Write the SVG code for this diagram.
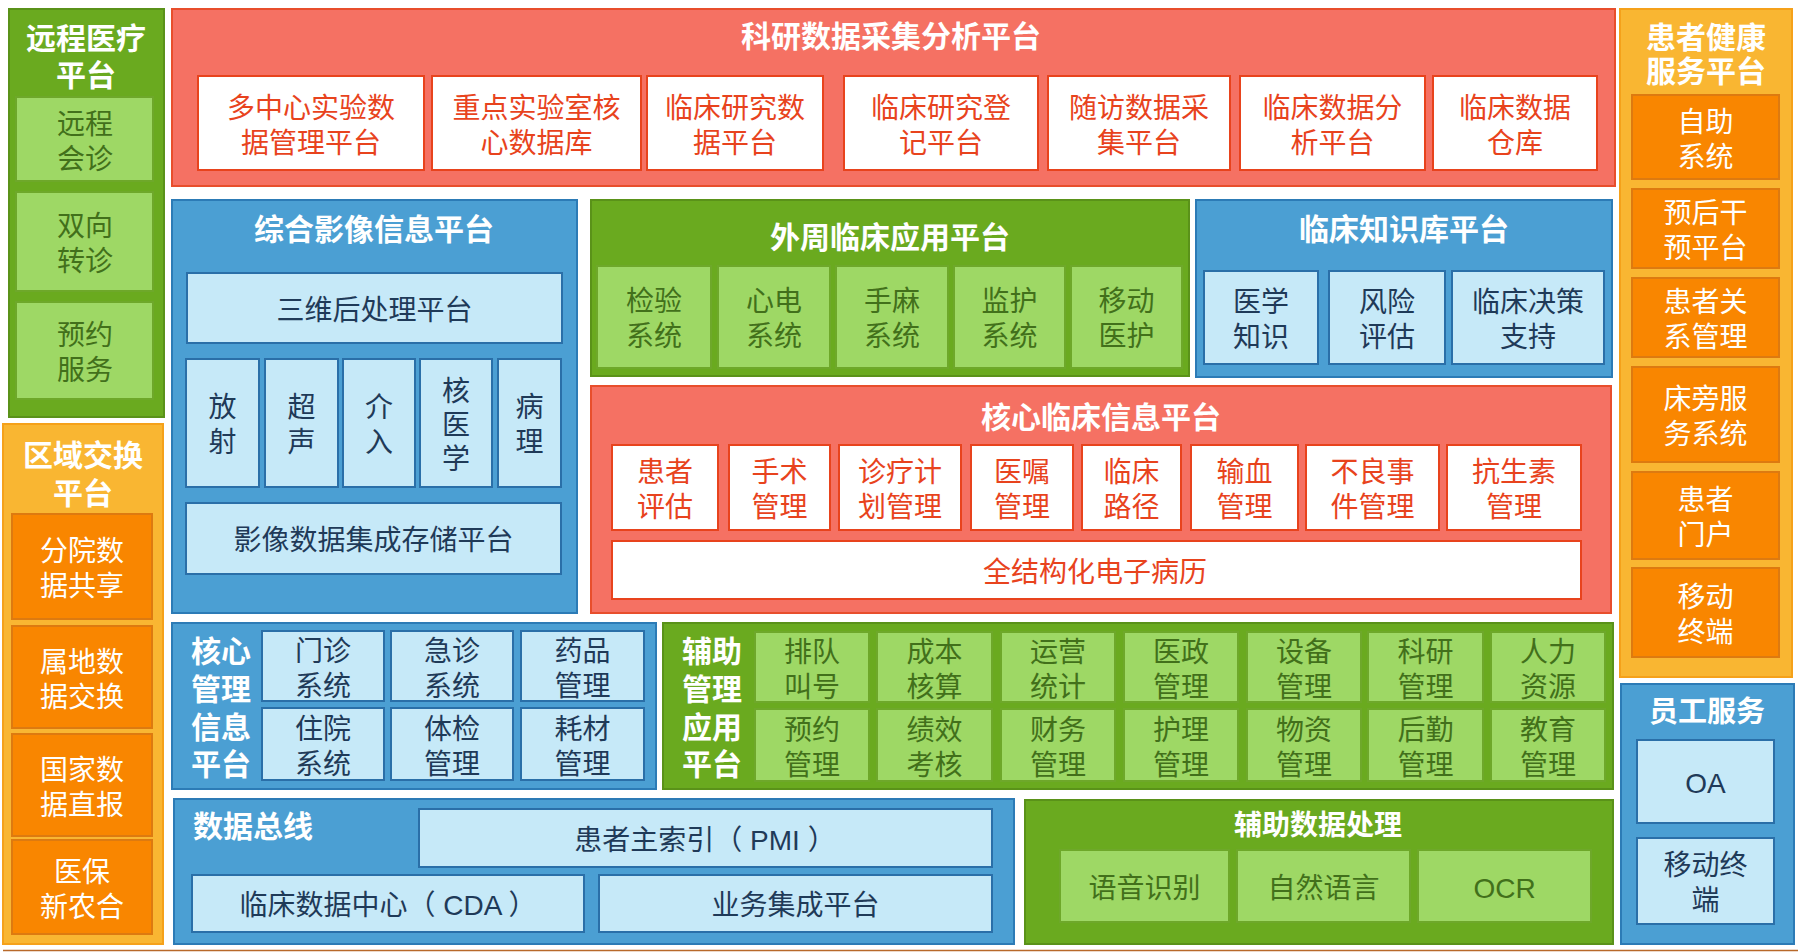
<svg xmlns="http://www.w3.org/2000/svg" width="1798" height="952" viewBox="0 0 1798 952">
<style>
text{font-family:"Liberation Sans","Noto Sans CJK SC","Microsoft YaHei",sans-serif;text-anchor:middle;dominant-baseline:central;font-size:28px;transform:translateY(2px)}
.pg{fill:#6aaa1f;stroke:#5a9219;stroke-width:2}
.pr{fill:#f57163;stroke:#e84e2c;stroke-width:2}
.pb{fill:#4b9fd3;stroke:#2c7bb6;stroke-width:2}
.po{fill:#f9b632;stroke:#f5a11a;stroke-width:2}
.bg{fill:#9ed865;stroke:#6ea82a;stroke-width:2}
.bw{fill:#ffffff;stroke:#e8431d;stroke-width:2}
.bb{fill:#c6e9f8;stroke:#2a6fa8;stroke-width:2}
.bo{fill:#f98600;stroke:#dd7a10;stroke-width:2}
.t{fill:#ffffff;font-weight:bold;font-size:30px}
.tg{fill:#42701b}
.tr{fill:#e8431d}
.tb{fill:#1f3a58}
.tw{fill:#ffffff}
</style>
<rect width="1798" height="952" fill="#ffffff"/>
<line x1="3" y1="950.5" x2="1798" y2="950.5" stroke="#b8692a" stroke-width="1.5"/>

<g id="remote">
<rect class="pg" x="9" y="9" width="155" height="408"/>
<text class="t"><tspan x="86" y="36">远程医疗</tspan><tspan x="86" y="73">平台</tspan></text>
<rect class="bg" x="16" y="97" width="137" height="84"/>
<text class="tg"><tspan x="85" y="121.5">远程</tspan><tspan x="85" y="156.5">会诊</tspan></text>
<rect class="bg" x="16" y="192" width="137" height="99"/>
<text class="tg"><tspan x="85" y="224">双向</tspan><tspan x="85" y="259">转诊</tspan></text>
<rect class="bg" x="16" y="302" width="137" height="97"/>
<text class="tg"><tspan x="85" y="333">预约</tspan><tspan x="85" y="368">服务</tspan></text>
</g>

<g id="region">
<rect class="po" x="3" y="424" width="160" height="520"/>
<text class="t"><tspan x="83" y="453">区域交换</tspan><tspan x="83" y="491">平台</tspan></text>
<rect class="bo" x="12" y="514" width="140" height="105"/>
<text class="tw"><tspan x="82" y="549">分院数</tspan><tspan x="82" y="584">据共享</tspan></text>
<rect class="bo" x="12" y="626" width="140" height="102"/>
<text class="tw"><tspan x="82" y="659.5">属地数</tspan><tspan x="82" y="694.5">据交换</tspan></text>
<rect class="bo" x="12" y="734" width="140" height="102"/>
<text class="tw"><tspan x="82" y="767.5">国家数</tspan><tspan x="82" y="802.5">据直报</tspan></text>
<rect class="bo" x="12" y="840" width="140" height="94"/>
<text class="tw"><tspan x="82" y="869.5">医保</tspan><tspan x="82" y="904.5">新农合</tspan></text>
</g>

<g id="research">
<rect class="pr" x="172" y="9" width="1443" height="177"/>
<text class="t" x="891" y="34">科研数据采集分析平台</text>
<rect class="bw" x="198" y="76" width="226" height="94"/>
<text class="tr"><tspan x="311" y="106">多中心实验数</tspan><tspan x="311" y="141">据管理平台</tspan></text>
<rect class="bw" x="432" y="76" width="209" height="94"/>
<text class="tr"><tspan x="536.5" y="106">重点实验室核</tspan><tspan x="536.5" y="141">心数据库</tspan></text>
<rect class="bw" x="647" y="76" width="176" height="94"/>
<text class="tr"><tspan x="735" y="106">临床研究数</tspan><tspan x="735" y="141">据平台</tspan></text>
<rect class="bw" x="844" y="76" width="194" height="94"/>
<text class="tr"><tspan x="941" y="106">临床研究登</tspan><tspan x="941" y="141">记平台</tspan></text>
<rect class="bw" x="1048" y="76" width="182" height="94"/>
<text class="tr"><tspan x="1139" y="106">随访数据采</tspan><tspan x="1139" y="141">集平台</tspan></text>
<rect class="bw" x="1240" y="76" width="185" height="94"/>
<text class="tr"><tspan x="1332.5" y="106">临床数据分</tspan><tspan x="1332.5" y="141">析平台</tspan></text>
<rect class="bw" x="1433" y="76" width="164" height="94"/>
<text class="tr"><tspan x="1515" y="106">临床数据</tspan><tspan x="1515" y="141">仓库</tspan></text>
</g>

<g id="imaging">
<rect class="pb" x="172" y="200" width="405" height="413"/>
<text class="t" x="374" y="227">综合影像信息平台</text>
<rect class="bb" x="187" y="273" width="375" height="70"/>
<text class="tb" x="374.5" y="308">三维后处理平台</text>
<rect class="bb" x="186" y="359" width="73" height="128"/>
<text class="tb"><tspan x="222.5" y="405">放</tspan><tspan x="222.5" y="440">射</tspan></text>
<rect class="bb" x="265" y="359" width="73" height="128"/>
<text class="tb"><tspan x="301.5" y="405">超</tspan><tspan x="301.5" y="440">声</tspan></text>
<rect class="bb" x="343" y="359" width="72" height="128"/>
<text class="tb"><tspan x="379" y="405">介</tspan><tspan x="379" y="440">入</tspan></text>
<rect class="bb" x="420" y="359" width="72" height="128"/>
<text class="tb"><tspan x="456" y="389">核</tspan><tspan x="456" y="423">医</tspan><tspan x="456" y="457">学</tspan></text>
<rect class="bb" x="498" y="359" width="63" height="128"/>
<text class="tb"><tspan x="529.5" y="405">病</tspan><tspan x="529.5" y="440">理</tspan></text>
<rect class="bb" x="186" y="503" width="375" height="71"/>
<text class="tb" x="373.5" y="538.5">影像数据集成存储平台</text>
</g>

<g id="periphery">
<rect class="pg" x="591" y="200" width="598" height="176"/>
<text class="t" x="890" y="235">外周临床应用平台</text>
<rect class="bg" x="597" y="266" width="114" height="102"/>
<text class="tg"><tspan x="654" y="299">检验</tspan><tspan x="654" y="334">系统</tspan></text>
<rect class="bg" x="718" y="266" width="112" height="102"/>
<text class="tg"><tspan x="774" y="299">心电</tspan><tspan x="774" y="334">系统</tspan></text>
<rect class="bg" x="836" y="266" width="112" height="102"/>
<text class="tg"><tspan x="892" y="299">手麻</tspan><tspan x="892" y="334">系统</tspan></text>
<rect class="bg" x="954" y="266" width="111" height="102"/>
<text class="tg"><tspan x="1009.5" y="299">监护</tspan><tspan x="1009.5" y="334">系统</tspan></text>
<rect class="bg" x="1071" y="266" width="111" height="102"/>
<text class="tg"><tspan x="1126.5" y="299">移动</tspan><tspan x="1126.5" y="334">医护</tspan></text>
</g>

<g id="knowledge">
<rect class="pb" x="1196" y="200" width="416" height="177"/>
<text class="t" x="1404" y="227">临床知识库平台</text>
<rect class="bb" x="1204" y="271" width="114" height="93"/>
<text class="tb"><tspan x="1261" y="300">医学</tspan><tspan x="1261" y="335">知识</tspan></text>
<rect class="bb" x="1329" y="271" width="116" height="93"/>
<text class="tb"><tspan x="1387" y="300">风险</tspan><tspan x="1387" y="335">评估</tspan></text>
<rect class="bb" x="1452" y="271" width="152" height="93"/>
<text class="tb"><tspan x="1528" y="300">临床决策</tspan><tspan x="1528" y="335">支持</tspan></text>
</g>

<g id="core-clinical">
<rect class="pr" x="591" y="386" width="1020" height="227"/>
<text class="t" x="1101" y="415">核心临床信息平台</text>
<rect class="bw" x="612" y="445" width="106" height="85"/>
<text class="tr"><tspan x="665" y="470">患者</tspan><tspan x="665" y="505">评估</tspan></text>
<rect class="bw" x="729" y="445" width="101" height="85"/>
<text class="tr"><tspan x="779.5" y="470">手术</tspan><tspan x="779.5" y="505">管理</tspan></text>
<rect class="bw" x="839" y="445" width="122" height="85"/>
<text class="tr"><tspan x="900" y="470">诊疗计</tspan><tspan x="900" y="505">划管理</tspan></text>
<rect class="bw" x="971" y="445" width="102" height="85"/>
<text class="tr"><tspan x="1022" y="470">医嘱</tspan><tspan x="1022" y="505">管理</tspan></text>
<rect class="bw" x="1082" y="445" width="99" height="85"/>
<text class="tr"><tspan x="1131.5" y="470">临床</tspan><tspan x="1131.5" y="505">路径</tspan></text>
<rect class="bw" x="1191" y="445" width="107" height="85"/>
<text class="tr"><tspan x="1244.5" y="470">输血</tspan><tspan x="1244.5" y="505">管理</tspan></text>
<rect class="bw" x="1306" y="445" width="133" height="85"/>
<text class="tr"><tspan x="1372.5" y="470">不良事</tspan><tspan x="1372.5" y="505">件管理</tspan></text>
<rect class="bw" x="1447" y="445" width="134" height="85"/>
<text class="tr"><tspan x="1514" y="470">抗生素</tspan><tspan x="1514" y="505">管理</tspan></text>
<rect class="bw" x="612" y="541" width="969" height="58"/>
<text class="tr" x="1095" y="570">全结构化电子病历</text>
</g>

<g id="patient-health">
<rect class="po" x="1620" y="9" width="172" height="668"/>
<text class="t"><tspan x="1706" y="35">患者健康</tspan><tspan x="1706" y="69">服务平台</tspan></text>
<rect class="bo" x="1632" y="95" width="147" height="84"/>
<text class="tw"><tspan x="1705.5" y="119.5">自助</tspan><tspan x="1705.5" y="154.5">系统</tspan></text>
<rect class="bo" x="1632" y="189" width="147" height="79"/>
<text class="tw"><tspan x="1705.5" y="211">预后干</tspan><tspan x="1705.5" y="246">预平台</tspan></text>
<rect class="bo" x="1632" y="278" width="147" height="79"/>
<text class="tw"><tspan x="1705.5" y="300">患者关</tspan><tspan x="1705.5" y="335">系管理</tspan></text>
<rect class="bo" x="1632" y="367" width="147" height="95"/>
<text class="tw"><tspan x="1705.5" y="397">床旁服</tspan><tspan x="1705.5" y="432">务系统</tspan></text>
<rect class="bo" x="1632" y="472" width="147" height="87"/>
<text class="tw"><tspan x="1705.5" y="498">患者</tspan><tspan x="1705.5" y="533">门户</tspan></text>
<rect class="bo" x="1632" y="568" width="147" height="89"/>
<text class="tw"><tspan x="1705.5" y="595">移动</tspan><tspan x="1705.5" y="630">终端</tspan></text>
</g>

<g id="core-management">
<rect class="pb" x="172" y="623" width="484" height="166"/>
<text class="t"><tspan x="221" y="649">核心</tspan><tspan x="221" y="687">管理</tspan><tspan x="221" y="725">信息</tspan><tspan x="221" y="762">平台</tspan></text>
<rect class="bb" x="262" y="631" width="122" height="70"/>
<text class="tb"><tspan x="323" y="648.5">门诊</tspan><tspan x="323" y="683.5">系统</tspan></text>
<rect class="bb" x="391" y="631" width="122" height="70"/>
<text class="tb"><tspan x="452" y="648.5">急诊</tspan><tspan x="452" y="683.5">系统</tspan></text>
<rect class="bb" x="521" y="631" width="123" height="70"/>
<text class="tb"><tspan x="582.5" y="648.5">药品</tspan><tspan x="582.5" y="683.5">管理</tspan></text>
<rect class="bb" x="262" y="708" width="122" height="72"/>
<text class="tb"><tspan x="323" y="727">住院</tspan><tspan x="323" y="762">系统</tspan></text>
<rect class="bb" x="391" y="708" width="122" height="72"/>
<text class="tb"><tspan x="452" y="727">体检</tspan><tspan x="452" y="762">管理</tspan></text>
<rect class="bb" x="521" y="708" width="123" height="72"/>
<text class="tb"><tspan x="582.5" y="727">耗材</tspan><tspan x="582.5" y="762">管理</tspan></text>
</g>

<g id="aux-management">
<rect class="pg" x="663" y="623" width="950" height="166"/>
<text class="t"><tspan x="712" y="649">辅助</tspan><tspan x="712" y="687">管理</tspan><tspan x="712" y="725">应用</tspan><tspan x="712" y="762">平台</tspan></text>
<rect class="bg" x="755" y="632" width="114" height="70"/>
<text class="tg"><tspan x="812" y="649.5">排队</tspan><tspan x="812" y="684.5">叫号</tspan></text>
<rect class="bg" x="877" y="632" width="115" height="70"/>
<text class="tg"><tspan x="934.5" y="649.5">成本</tspan><tspan x="934.5" y="684.5">核算</tspan></text>
<rect class="bg" x="1001" y="632" width="114" height="70"/>
<text class="tg"><tspan x="1058" y="649.5">运营</tspan><tspan x="1058" y="684.5">统计</tspan></text>
<rect class="bg" x="1124" y="632" width="114" height="70"/>
<text class="tg"><tspan x="1181" y="649.5">医政</tspan><tspan x="1181" y="684.5">管理</tspan></text>
<rect class="bg" x="1247" y="632" width="114" height="70"/>
<text class="tg"><tspan x="1304" y="649.5">设备</tspan><tspan x="1304" y="684.5">管理</tspan></text>
<rect class="bg" x="1368" y="632" width="115" height="70"/>
<text class="tg"><tspan x="1425.5" y="649.5">科研</tspan><tspan x="1425.5" y="684.5">管理</tspan></text>
<rect class="bg" x="1491" y="632" width="114" height="70"/>
<text class="tg"><tspan x="1548" y="649.5">人力</tspan><tspan x="1548" y="684.5">资源</tspan></text>
<rect class="bg" x="755" y="709" width="114" height="72"/>
<text class="tg"><tspan x="812" y="727.5">预约</tspan><tspan x="812" y="762.5">管理</tspan></text>
<rect class="bg" x="877" y="709" width="115" height="72"/>
<text class="tg"><tspan x="934.5" y="727.5">绩效</tspan><tspan x="934.5" y="762.5">考核</tspan></text>
<rect class="bg" x="1001" y="709" width="114" height="72"/>
<text class="tg"><tspan x="1058" y="727.5">财务</tspan><tspan x="1058" y="762.5">管理</tspan></text>
<rect class="bg" x="1124" y="709" width="114" height="72"/>
<text class="tg"><tspan x="1181" y="727.5">护理</tspan><tspan x="1181" y="762.5">管理</tspan></text>
<rect class="bg" x="1247" y="709" width="114" height="72"/>
<text class="tg"><tspan x="1304" y="727.5">物资</tspan><tspan x="1304" y="762.5">管理</tspan></text>
<rect class="bg" x="1368" y="709" width="115" height="72"/>
<text class="tg"><tspan x="1425.5" y="727.5">后勤</tspan><tspan x="1425.5" y="762.5">管理</tspan></text>
<rect class="bg" x="1491" y="709" width="114" height="72"/>
<text class="tg"><tspan x="1548" y="727.5">教育</tspan><tspan x="1548" y="762.5">管理</tspan></text>
</g>

<g id="data-bus">
<rect class="pb" x="174" y="799" width="840" height="145"/>
<text class="t" x="193" y="824" style="text-anchor:start">数据总线</text>
<rect class="bb" x="419" y="809" width="573" height="58"/>
<text class="tb" x="705" y="838">患者主索引（ PMI ）</text>
<rect class="bb" x="192" y="875" width="392" height="57"/>
<text class="tb" x="388" y="903.5">临床数据中心（ CDA ）</text>
<rect class="bb" x="599" y="875" width="393" height="57"/>
<text class="tb" x="795.5" y="903.5">业务集成平台</text>
</g>

<g id="aux-data">
<rect class="pg" x="1025" y="800" width="588" height="144"/>
<text class="t" x="1318" y="823" style="font-size:28px">辅助数据处理</text>
<rect class="bg" x="1060" y="850" width="169" height="72"/>
<text class="tg" x="1144.5" y="886">语音识别</text>
<rect class="bg" x="1237" y="850" width="173" height="72"/>
<text class="tg" x="1323.5" y="886">自然语言</text>
<rect class="bg" x="1418" y="850" width="173" height="72"/>
<text class="tg" x="1504.5" y="886">OCR</text>
</g>

<g id="staff">
<rect class="pb" x="1621" y="684" width="173" height="260"/>
<text class="t" x="1707" y="710" style="font-size:29px">员工服务</text>
<rect class="bb" x="1637" y="740" width="137" height="83"/>
<text class="tb" x="1705.5" y="781.5">OA</text>
<rect class="bb" x="1637" y="838" width="137" height="86"/>
<text class="tb"><tspan x="1705.5" y="863">移动终</tspan><tspan x="1705.5" y="898">端</tspan></text>
</g>
</svg>
